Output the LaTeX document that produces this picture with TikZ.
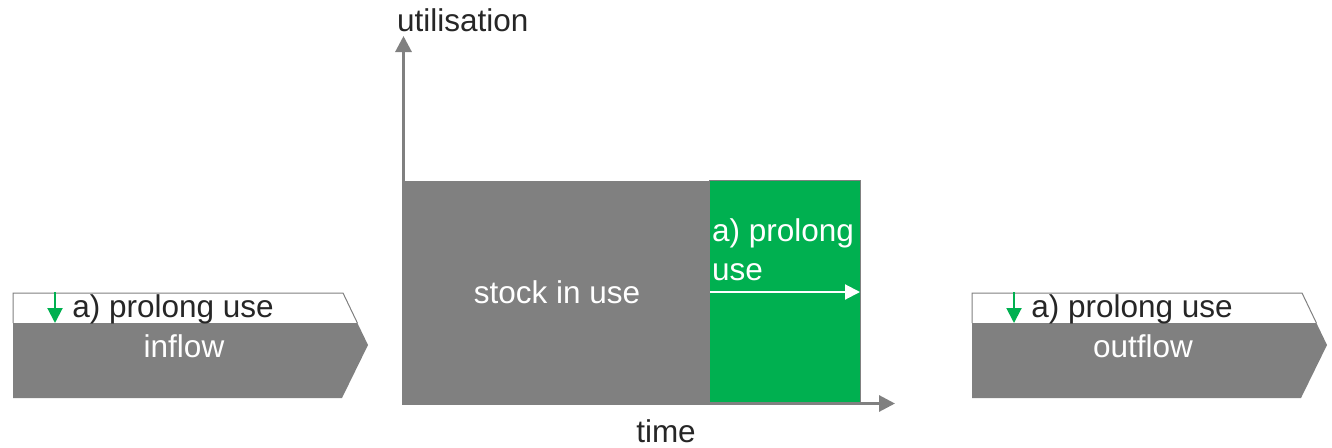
\documentclass[tikz,border=0pt]{standalone}
\usepackage{fontspec}
\setmainfont{Liberation Sans}
\usetikzlibrary{arrows.meta}
\definecolor{boxgray}{RGB}{128,128,128}
\definecolor{prolonggreen}{RGB}{0,176,80}
\definecolor{ink}{RGB}{38,38,38}
\tikzset{
  lbl/.style={font=\fontsize{31.5}{36}\selectfont, inner sep=0pt},
  axis/.style={draw=boxgray, line width=3pt, -{Triangle[length=16pt,width=16pt]}},
  smallarrow/.style={line width=2pt, -{Triangle[length=15pt,width=15pt]}},
  % chevron with a white band on top and a grey body below
  flowbox/.pic={
    \draw[boxgray, line width=1pt, fill=white] (0,30) -- (0,0) -- (330,0) -- (344.4,30);
    \fill[boxgray] (0,30) -- (344.4,30) -- (355,52) -- (329,105) -- (0,105) -- cycle;
    \coordinate (-arrowtop) at (42,-1);
    \coordinate (-arrowend) at (42,30);
    \draw[prolonggreen, smallarrow] (-arrowtop) -- (-arrowend);
    \node[lbl, text=ink, anchor=base] (-measure) at (160,24) {a) prolong use};
    \node[lbl, text=white, anchor=base] (-name) at (171,64) {#1};
  }
}
\begin{document}
\begin{tikzpicture}[x=1pt,y=-1pt]
\useasboundingbox (0,0) rectangle (1332,447);

% inflow and outflow chevrons
\pic (inflow) at (13,293) {flowbox=inflow};
\pic (outflow) at (972,293) {flowbox=outflow};

% stock in use and its prolonged extension
\node[fill=boxgray, inner sep=0pt, anchor=north west, minimum width=306pt, minimum height=222pt] (stock) at (403,181) {};
\node[lbl, text=white, anchor=base] (stocklabel) at (557,303) {stock in use};
\node[fill=prolonggreen, draw=boxgray, line width=1pt, inner sep=0pt, anchor=north west, minimum width=151pt, minimum height=223pt] (ext) at (709,180) {};
\node[lbl, text=white, anchor=base west] (extline1) at (712,241.5) {a) prolong};
\node[lbl, text=white, anchor=base west] (extline2) at (712,280) {use};
\coordinate (extstart) at (710,292);
\coordinate (extend) at (860,292);
\draw[white, smallarrow] (extstart) -- (extend);

% axes
\coordinate (origin) at (403.5,403.5);
\coordinate (ytip) at (403.5,36);
\coordinate (xstart) at (402,403.5);
\coordinate (xtip) at (895,403.5);
\draw[axis] (origin) -- (ytip);
\draw[axis] (xstart) -- (xtip);
\node[lbl, text=ink, anchor=base west] (ylabel) at (397,31) {utilisation};
\node[lbl, text=ink, anchor=base] (xlabel) at (666,442) {time};
\end{tikzpicture}
\end{document}
